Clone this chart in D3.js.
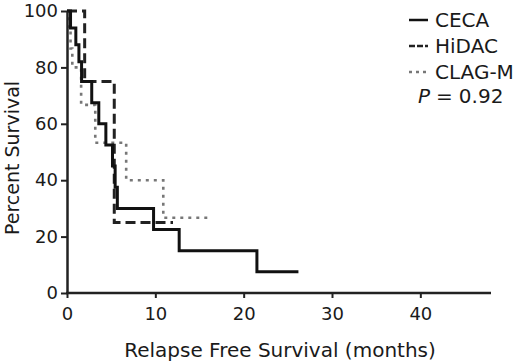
<!DOCTYPE html>
<html>
  <head>
    <meta charset="utf-8">
    <script src="https://d3js.org/d3.v7.min.js"></script>
    <style>
      body { margin: 0; background: #fff; }
      text { font-family: "DejaVu Sans", sans-serif; fill: #1a1a1a; }
    </style>
  </head>
  <body>
    <script>
        var width = 520;
        var height = 363;

        // Kaplan-Meier steps: [months, percent surviving]
        var ceca = [[0,100],[0.4,94],[1.0,88],[1.35,82],[1.65,75],[2.8,67.5],[3.6,60],[4.4,52.5],
                    [5.15,45],[5.45,37.5],[5.7,30],[9.8,22.5],[12.7,15],[21.5,7.5]];
        var cecaEnd = 26.2;
        var hidac = [[0,100],[2.0,75],[5.35,25]];
        var hidacEnd = 12;
        var clagm = [[0,100],[0.2,93.3],[0.4,86.7],[0.6,80],[1.6,66.7],[3.2,53.3],[6.7,40],[10.9,26.7]];
        var clagmEnd = 15.9;

        var xTicks = [0, 10, 20, 30, 40];
        var yTicks = [0, 20, 40, 60, 80, 100];
        var legendNames = ["CECA", "HiDAC", "CLAG-M"];

        var svg = d3.select("body").append("svg")
            .attr("width", width)
            .attr("height", height)
        ;

        var xScale = d3.scaleLinear().domain([0, 48]).range([67, 491]);
        var yScale = d3.scaleLinear().domain([0, 100]).range([293, 11]);

        var line = d3.line()
            .x((d) => xScale(d[0]))
            .y((d) => yScale(d[1]))
            .curve(d3.curveStepAfter)
        ;

        function withEnd(data, end) {
            return data.concat([[end, data[data.length - 1][1]]]);
        }

        var series = [
            {data: withEnd(clagm, clagmEnd), color: "#777", w: 2.6, dash: "3,5"},
            {data: withEnd(hidac, hidacEnd), color: "#222", w: 3, dash: "10,5"},
            {data: withEnd(ceca, cecaEnd), color: "#111", w: 3, dash: null}
        ];

        svg.selectAll("path.km")
            .data(series)
            .enter()
            .append("path")
            .classed("km", true)
            .attr("d", (d) => line(d.data))
            .attr("fill", "none")
            .attr("stroke", (d) => d.color)
            .attr("stroke-width", (d) => d.w)
            .attr("stroke-dasharray", (d) => d.dash)
        ;

        // axes
        var axisX = d3.axisBottom(xScale).tickValues(xTicks).tickSize(5).tickSizeOuter(0).tickPadding(9);
        var gx = svg.append("g")
            .attr("transform", "translate(0," + yScale(0) + ")")
            .call(axisX)
        ;
        var axisY = d3.axisLeft(yScale).tickValues(yTicks).tickSize(6).tickSizeOuter(0).tickPadding(3);
        var gy = svg.append("g")
            .attr("transform", "translate(" + xScale(0) + ",0)")
            .call(axisY)
        ;
        [gx, gy].forEach((g) => {
            g.select(".domain").attr("stroke", "#222").attr("stroke-width", 2.5);
            g.selectAll(".tick line").attr("stroke", "#222").attr("stroke-width", 2);
            g.selectAll(".tick text")
                .style("font-family", "DejaVu Sans")
                .style("font-size", "18px")
                .attr("fill", "#222");
        });
        gx.select(".domain").attr("d", "M" + (xScale(0) - 1) + ",0H" + xScale(48));

        svg.append("text")
            .attr("x", 280)
            .attr("y", 357)
            .attr("text-anchor", "middle")
            .style("font-size", "20px")
            .text("Relapse Free Survival (months)")
        ;
        svg.append("text")
            .attr("transform", "translate(19,158) rotate(-90)")
            .attr("text-anchor", "middle")
            .style("font-size", "19px")
            .text("Percent Survival")
        ;

        // legend
        var legend = svg.selectAll("g.legend")
            .data(legendNames)
            .enter()
            .append("g")
            .classed("legend", true)
            .attr("transform", (d, i) => "translate(409," + (20 + i * 26) + ")")
        ;
        var legendStyle = [series[2], series[1], series[0]];
        legend.append("line")
            .attr("x1", 0).attr("x2", 19)
            .attr("stroke", (d, i) => legendStyle[i].color)
            .attr("stroke-width", 2.5)
            .attr("stroke-dasharray", (d, i) => i == 0 ? null : (i == 1 ? "6,2" : "3,4"))
        ;
        legend.append("text")
            .attr("x", 26)
            .attr("dy", "0.36em")
            .style("font-size", "20px")
            .text((d) => d)
        ;

        var pText = svg.append("text")
            .attr("x", 418)
            .attr("y", 103)
            .style("font-size", "20px")
        ;
        pText.append("tspan").style("font-style", "italic").text("P");
        pText.append("tspan").attr("dx", 6).text("=");
        pText.append("tspan").attr("dx", 6).text("0.92");
    </script>
  </body>
</html>
